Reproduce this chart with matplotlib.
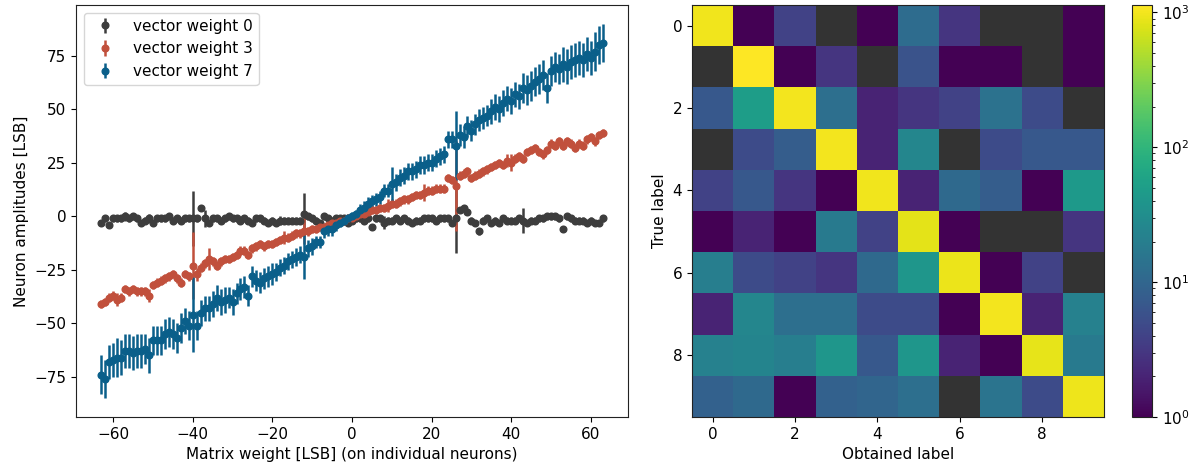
import numpy as np
import matplotlib
matplotlib.use("Agg")
import matplotlib.pyplot as plt
from matplotlib.colors import LogNorm

# ---------------- data ----------------
weights = list(range(-63, 64))

amp_w0 = [-3, -1, -4, -1, -1, -1, 0, -1, 0, -1,
          -3, -2, -1, -3, -1, -1, -1, 0, -2, -1,
          -2, -1, -1, -1, -1, 4, -1, -3, -1, -1,
          -2, -1, 0, -1, -1, -2, -1, -2, -3, -1,
          -1, -2, -3, -2, -3, -2, -2, -2, -2, -2,
          -2, 1, 0, -1, -2, -3, 0, -1, -2, -1,
          -1, -1, -3, -2, -1, -1, -2, -1, -5, -1,
          -1, -3, -2, -2, -1, -2, -1, -2, -3, -2,
          -2, -1, -1, -1, -2, -1, -1, -1, -3, -1,
          3, 4, 2, -2, -3, -7, -2, -1, -3, -2,
          -3, -1, -2, -2, -2, -1, -2, -3, -2, -2,
          -1, -1, 0, 0, 0, -1, -6, 0, -1, -2,
          -2, -2, -3, -2, -3, -3, -1]
err_w0 = [1.5, 1.5, 1.5, 1.5, 1.5, 1.5, 2, 1.5, 1.5, 1.5,
          1.5, 1.5, 2, 1.5, 1.5, 1.5, 1.5, 1.5, 1.5, 1.5,
          1.5, 1.5, 1.5, 13, 1.5, 1.5, 4, 1.5, 1.5, 1.5,
          1.5, 1.5, 1.5, 1.5, 1.5, 1.5, 1.5, 1.5, 1.5, 1.5,
          1.5, 1.5, 1.5, 1.5, 1.5, 2, 1.5, 1.5, 1.5, 1.5,
          1.5, 10, 1.5, 1.5, 1.5, 1.5, 1.5, 1.5, 1.5, 1.5,
          1.5, 1.5, 1.5, 1.5, 1.5, 1.5, 1.5, 1.5, 1.5, 1.5,
          1.5, 3, 1.5, 1.5, 1.5, 1.5, 1.5, 1.5, 1.5, 1.5,
          1.5, 1.5, 1.5, 1.5, 1.5, 1.5, 1.5, 1.5, 1.5, 16,
          1.5, 1.5, 1.5, 1.5, 1.5, 1.5, 1.5, 1.5, 1.5, 1.5,
          1.5, 1.5, 1.5, 1.5, 1.5, 1.5, 6, 1.5, 1.5, 1.5,
          1.5, 1.5, 1.5, 1.5, 1.5, 1.5, 1.5, 1.5, 1.5, 1.5,
          1.5, 1.5, 1.5, 1.5, 1.5, 1.5, 1.5]

amp_w3 = [-41, -40, -38, -37, -39, -38, -34, -35, -34, -35,
          -35, -35, -37, -32, -31, -30, -29, -28, -27, -29,
          -31, -27, -28, -23, -27, -24, -22, -20, -21, -23,
          -21, -20, -20, -19, -18, -16, -16, -18, -15, -14,
          -13, -14, -13, -13, -12, -11, -10, -10, -9, -8,
          -8, -7, -7, -6, -6, -5, -5, -4, -3, -3,
          -2, -2, -1, -1, 0, 1, 1, 2, 3, 3,
          4, 4, 5, 6, 6, 7, 8, 8, 9, 10,
          10, 11, 12, 12, 13, 13, 13, 18, 17, 14,
          19, 20, 21, 18, 19, 20, 21, 22, 23, 24,
          25, 24, 26, 25, 27, 28, 27, 30, 31, 32,
          30, 29, 31, 34, 33, 35, 33, 35, 34, 32,
          34, 33, 36, 37, 35, 38, 39]
err_w3 = [2, 2, 2, 2, 3, 2, 2, 2, 2, 2,
          2, 2, 3, 2, 2, 2, 2, 2, 2, 2,
          2, 2, 2, 15.5, 3, 2, 2, 5, 2, 2,
          2, 2, 2, 2, 2, 2, 2, 2, 2, 2,
          2, 2, 2, 2, 2, 2, 3, 2, 2, 2,
          2, 6, 2, 2, 2, 2, 2, 2, 2, 2,
          2, 2, 2, 2, 2, 2, 2, 2, 2, 2,
          2, 2, 3, 2, 2, 2, 2, 2, 2, 2,
          2, 4, 2, 2, 2, 2, 2, 2, 2, 21,
          2, 2, 2, 2, 2, 2, 2, 2, 2, 2,
          2, 2, 3, 4, 2, 2, 2, 2, 2, 2,
          2, 2, 2, 2, 2, 2, 2, 2, 2, 2,
          2, 2, 2, 2, 2, 2, 2]

amp_w7 = [-74, -76, -68, -67, -66, -66, -63, -63, -64, -63,
          -63, -62, -65, -58, -58, -58, -55, -54, -55, -57,
          -52, -49, -51, -46, -51, -45, -43, -43, -41, -38,
          -40, -39, -38, -40, -36, -34, -33, -37, -28, -30,
          -31, -29, -28, -27, -26, -24, -23, -21, -20, -19,
          -18, -19, -15, -14, -12, -12, -7, -6, -6, -4,
          -3, -2, -1, 0, 1, 3, 4, 6, 7, 8,
          9, 12, 12, 15, 16, 18, 19, 21, 21, 22,
          24, 24, 25, 25, 27, 28, 29, 36, 36, 33,
          38, 37, 42, 40, 43, 45, 46, 47, 49, 51,
          50, 53, 55, 54, 57, 56, 60, 59, 61, 63,
          64, 66, 60, 68, 70, 69, 71, 70, 72, 73,
          74, 73, 76, 74, 77, 80, 81]
err_w7 = [9, 9, 8, 8, 9, 8, 8, 8, 8, 8,
          8, 7, 8, 7, 7, 7, 7, 7, 7, 7,
          7, 6, 7, 17.5, 7, 6, 6, 6, 6, 6,
          6, 6, 5, 6, 5, 5, 5, 5, 5, 5,
          5, 5, 5, 5, 4, 4, 4, 4, 4, 4,
          4, 10.5, 4, 4, 3, 3, 3, 3, 3, 3,
          2, 2, 2, 2, 2, 3, 3, 3, 3, 3,
          3, 3, 3, 8, 4, 4, 4, 4, 4, 4,
          4, 4, 4, 4, 4, 4, 4, 4, 4, 16,
          5, 5, 5, 5, 5, 5, 5, 5, 6, 6,
          6, 6, 6, 6, 6, 6, 7, 7, 7, 7,
          7, 7, 7, 7, 7, 7, 8, 8, 8, 8,
          8, 8, 8, 8, 9, 9, 9]

series_labels = ["vector weight 0", "vector weight 3", "vector weight 7"]
series_colors = ["#3d3d3d", "#c1503c", "#0a5f8a"]

class_labels = list(range(10))
confusion = [
    [980, 1, 4, 0, 1, 12, 3, 0, 0, 1],
    [0, 1135, 1, 3, 0, 6, 1, 1, 0, 1],
    [7, 50, 1000, 13, 2, 3, 4, 14, 5, 0],
    [0, 5, 8, 990, 2, 25, 0, 5, 7, 7],
    [4, 7, 3, 1, 970, 2, 11, 8, 1, 45],
    [1, 2, 1, 18, 4, 860, 1, 0, 0, 3],
    [20, 5, 4, 3, 11, 40, 920, 1, 4, 0],
    [2, 25, 13, 13, 5, 5, 1, 990, 2, 22],
    [22, 24, 20, 40, 7, 40, 2, 1, 880, 18],
    [9, 11, 1, 9, 10, 13, 0, 15, 5, 950],
]

# ---------------- figure ----------------
plt.rcParams["font.size"] = 11
plt.rcParams["axes.edgecolor"] = "#222222"
W, H = 1199, 466
fig = plt.figure(figsize=(W / 100, H / 100), dpi=100)

def rect(x0, y0, x1, y1):
    return [x0 / W, 1 - y1 / H, (x1 - x0) / W, (y1 - y0) / H]

ax = fig.add_axes(rect(76, 5, 628, 417))
for amps, errs, lab, col in zip([amp_w0, amp_w3, amp_w7],
                                [err_w0, err_w3, err_w7],
                                series_labels, series_colors):
    ax.errorbar(weights, amps, yerr=errs, fmt="o", color=col, ecolor=col,
                markersize=4.8, elinewidth=1.8, capsize=0, label=lab)
ax.set_xlabel("Matrix weight [LSB] (on individual neurons)", fontsize=11)
ax.set_ylabel("Neuron amplitudes [LSB]", fontsize=11)
ax.set_xticks([-60, -40, -20, 0, 20, 40, 60])
ax.set_yticks([-75, -50, -25, 0, 25, 50, 75])
ax.tick_params(labelsize=11)
ax.legend(loc="upper left", fontsize=11)

ax2 = fig.add_axes(rect(692, 5, 1104, 417))
cm = np.array(confusion, dtype=float)
masked = np.ma.masked_where(cm <= 0, cm)
cmap = plt.get_cmap("viridis").copy()
cmap.set_bad("#333333")
im = ax2.imshow(masked, cmap=cmap, norm=LogNorm(vmin=1, vmax=1135),
                aspect="auto", interpolation="nearest")
ax2.set_xticks(class_labels[::2])
ax2.set_yticks(class_labels[::2])
ax2.set_xlabel("Obtained label", fontsize=11)
ax2.set_ylabel("True label", fontsize=11)
ax2.tick_params(labelsize=11)

cax = fig.add_axes(rect(1132, 5, 1152, 417))
cb = fig.colorbar(im, cax=cax)
cb.ax.tick_params(labelsize=11)

fig.savefig("out.png", dpi=100)
